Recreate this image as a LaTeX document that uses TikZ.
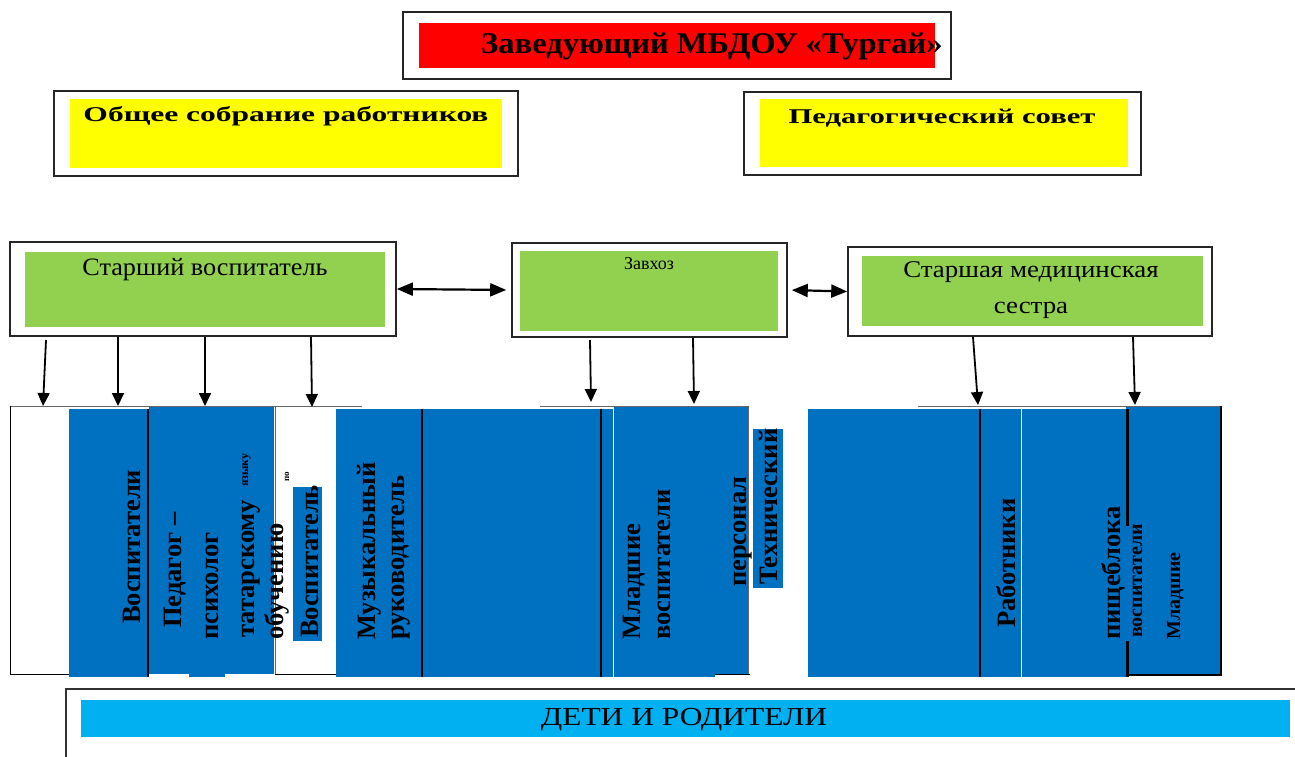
\documentclass[tikz,border=0pt]{standalone}
\usepackage{fontspec}
\setmainfont{Liberation Serif}
\usetikzlibrary{arrows.meta}
\definecolor{redbox}{HTML}{FF0000}
\definecolor{yel}{HTML}{FFFF00}
\definecolor{grn}{HTML}{92D050}
\definecolor{blu}{HTML}{0070C0}
\definecolor{lblu}{HTML}{00B0F0}
\begin{document}
\begin{tikzpicture}[x=1pt,y=-1pt,
  outerbox/.style={draw=black!85, line width=1.6pt, fill=white, inner sep=0pt},
  txt/.style={inner sep=0pt, text=black},
  vlab/.style={inner sep=0pt, rotate=90, anchor=base west, font=\fontsize{26.5}{26.5}\selectfont\bfseries},
  vsmall/.style={inner sep=0pt, rotate=90, anchor=base west, font=\fontsize{20}{20}\selectfont\bfseries},
  dn/.style={line width=1.8pt, -{Triangle[length=13pt,width=12pt]}},
  dbl/.style={line width=2.2pt, {Triangle[length=16pt,width=13pt]}-{Triangle[length=16pt,width=13pt]}},
  sep/.style={line width=2.6pt, black},
  thin/.style={line width=1pt, black!60},
]
\useasboundingbox (0,0) rectangle (1295,757);
\fill[white] (0,0) rectangle (1295,757);

% ---- top: head
\node[outerbox, line width=2pt, minimum width=548pt, minimum height=67pt] (head) at (677,45.5) {};
\fill[redbox] (419,23) rectangle (935,68);
\node[txt] (headt) at (712,46) {\scalebox{1.085}[1]{\fontsize{30}{30}\selectfont\bfseries Заведующий МБДОУ «Тургай»}};

% ---- yellow boxes
\node[outerbox, minimum width=464pt, minimum height=85pt] (gen) at (286,133.5) {};
\fill[yel] (70,99) rectangle (502,168);
\node[txt] (gent) at (286,116) {\scalebox{1.5}[1]{\fontsize{21}{21}\selectfont\bfseries Общее собрание работников}};

\node[outerbox, minimum width=397pt, minimum height=83pt] (ped) at (942.5,133.5) {};
\fill[yel] (760,99) rectangle (1128,167);
\node[txt] (pedt) at (942,118) {\scalebox{1.46}[1]{\fontsize{21}{21}\selectfont\bfseries Педагогический совет}};

% ---- green boxes
\node[outerbox, minimum width=386pt, minimum height=94pt] (sv) at (203,289) {};
\fill[grn] (25,252) rectangle (385,327);
\node[txt] (svt) at (205,270) {\scalebox{1.05}[1]{\fontsize{25}{25}\selectfont Старший воспитатель}};

\node[outerbox, minimum width=275pt, minimum height=94pt] (zh) at (649.5,290) {};
\fill[grn] (520,251) rectangle (778,331);
\node[txt] (zht) at (649,264) {\fontsize{18}{18}\selectfont Завхоз};

\node[outerbox, minimum width=364pt, minimum height=89pt] (ms) at (1030,291.5) {};
\fill[grn] (862,256) rectangle (1203,326);
\node[txt] (mst1) at (1031,272) {\scalebox{1.12}[1]{\fontsize{24}{24}\selectfont Старшая медицинская}};
\node[txt] (mst2) at (1031,310) {\scalebox{1.12}[1]{\fontsize{24}{24}\selectfont сестра}};

% ---- double arrows
\draw[dbl, shorten >=5pt] (sv.east) -- (zh.west);
\draw[dbl, shorten <=4pt] (zh.east) -- (ms.west);

% ---- bottom columns
\fill[blu] (69,409) rectangle (147,677);
\fill[blu] (149,407) rectangle (274,674);
\fill[blu] (189,674) rectangle (225,677);
\fill[blu] (336,409) rectangle (614,677);
\fill[blu] (614,407) rectangle (748,674);
\fill[blu] (614,674) rectangle (715,677);
\fill[blu] (808,409) rectangle (1126,677);
\fill[blu] (1126,407) rectangle (1220,674);

\draw[thin] (10,406) -- (362,406);
\draw[thin] (540,406) -- (748,406);
\draw[thin] (918,406) -- (1222,406);
\draw[line width=1pt] (10,406) -- (10,674.5) -- (69,674.5);
\draw[sep] (148,409) -- (148,677);
\draw[thin] (275,407) -- (275,674);
\draw[line width=1pt] (275,674.5) -- (336,674.5);
\draw[sep] (422,409) -- (422,677);
\draw[sep] (601,409) -- (601,677);
\draw[line width=1pt, white] (613.5,407) -- (613.5,677);
\draw[thin] (748.5,406) -- (748.5,674);
\draw[line width=1pt] (715,674.5) -- (750,674.5);
\draw[sep] (980,409) -- (980,677);
\draw[line width=1pt, white] (1021,407) -- (1021,677);
\draw[line width=3pt] (1127,409) -- (1127,526);
\draw[line width=3pt] (1127,641) -- (1127,677);
\draw[line width=1.5pt] (1221,406) -- (1221,675) -- (1128,675);

% small blue labels
\fill[blu] (293,487) rectangle (322,641);
\fill[blu] (753,429) rectangle (783,588);

% ---- vertical texts
\node[vlab] (c1) at (140,624) {Воспитатели};
\node[vlab] (c2a) at (181,628) {Педагог –};
\node[vlab] (c2b) at (218,640) {психолог};
\node[vlab] (c3a) at (254,638) {татарскому};
\node[inner sep=0pt, rotate=90, anchor=base west, font=\fontsize{12}{12}\selectfont\bfseries] (c3b) at (248,487) {языку};
\node[vlab] (c3c) at (283,640) {обучению};
\node[inner sep=0pt, rotate=90, anchor=base west, font=\fontsize{9}{9}\selectfont\bfseries] (c3d) at (289,482) {по};
\node[vlab] (c4) at (318,638) {Воспитатель};
\node[vlab] (c5a) at (375,640) {Музыкальный};
\node[vlab] (c5b) at (404,640) {руководитель};
\node[vlab] (c6a) at (640,640) {Младшие};
\node[vlab] (c6b) at (670,640) {воспитатели};
\node[vlab] (c7a) at (746,587) {персонал};
\node[vlab] (c7b) at (777,585) {Технический};
\node[vlab] (c8) at (1015,628) {Работники};
\node[vlab] (c9a) at (1120,640) {пищеблока};
\node[vsmall] (c9b) at (1142,638) {воспитатели};
\node[vsmall] (c9c) at (1180,640) {Младшие};

% ---- down arrows
\coordinate (s1) at (46,340);   \coordinate (e1) at (43,406);
\coordinate (s2) at (118,337);  \coordinate (e2) at (118,406);
\coordinate (s3) at (205,337);  \coordinate (e3) at (205,406);
\coordinate (s4) at (311,337);  \coordinate (e4) at (312,407);
\coordinate (s5) at (590,340);  \coordinate (e5) at (591,402);
\coordinate (s6) at (693,338);  \coordinate (e6) at (694,404);
\coordinate (s7) at (973,337);  \coordinate (e7) at (978,405);
\coordinate (s8) at (1133,337); \coordinate (e8) at (1135,405);
\foreach \i in {1,...,8} { \draw[dn] (s\i) -- (e\i); }

% ---- children and parents
\draw[line width=2pt, black!80] (66,757) -- (66,689) -- (1295,689);
\fill[lblu] (81,700) rectangle (1290,737);
\node[txt] (kids) at (684,720) {\scalebox{1.21}[1]{\fontsize{26}{26}\selectfont ДЕТИ И РОДИТЕЛИ}};
\end{tikzpicture}
\end{document}
